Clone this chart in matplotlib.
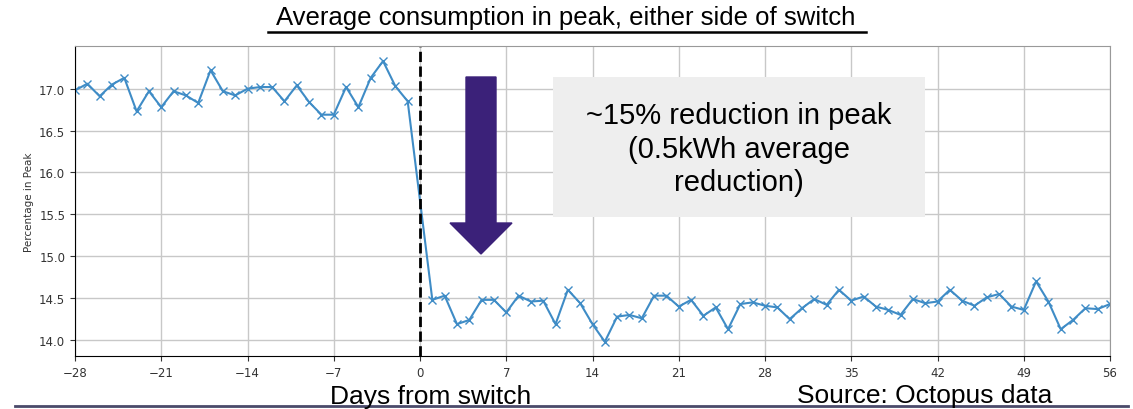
import matplotlib.pyplot as plt
from matplotlib.patches import Rectangle, FancyArrow
from matplotlib.lines import Line2D
import numpy as np

# ---
days_before = list(range(-28, 0))
peak_before = [16.98, 17.06, 16.91, 17.05, 17.13, 16.73, 16.97, 16.78, 16.97, 16.92,
               16.83, 17.22, 16.97, 16.92, 17.00, 17.02, 17.02, 16.85, 17.04, 16.84,
               16.69, 16.69, 17.02, 16.78, 17.13, 17.33, 17.03, 16.85]
days_after = list(range(1, 57))
peak_after = [14.48, 14.53, 14.19, 14.24, 14.48, 14.48, 14.33, 14.53, 14.46, 14.47,
              14.19, 14.60, 14.44, 14.19, 13.98, 14.28, 14.30, 14.26, 14.53, 14.53,
              14.40, 14.48, 14.29, 14.39, 14.13, 14.43, 14.45, 14.41, 14.39, 14.25,
              14.38, 14.49, 14.42, 14.60, 14.47, 14.52, 14.40, 14.36, 14.30, 14.49,
              14.44, 14.46, 14.60, 14.47, 14.41, 14.51, 14.55, 14.40, 14.36, 14.70,
              14.46, 14.13, 14.24, 14.38, 14.37, 14.43]
x_ticks = [-28, -21, -14, -7, 0, 7, 14, 21, 28, 35, 42, 49, 56]
y_ticks = [14.0, 14.5, 15.0, 15.5, 16.0, 16.5, 17.0]

days = days_before + days_after
peak = peak_before + peak_after

title = "Average consumption in peak, either side of switch"
note = "~15% reduction in peak\n(0.5kWh average\nreduction)"
#---

fig = plt.figure(figsize=(11.33, 4.10), dpi=100)
ax = fig.add_axes([0.0662, 0.1293, 0.9135, 0.7561])

ax.plot(days, peak, color="#3f8cc6", marker="x", markersize=6, linewidth=1.5)
ax.axvline(0, color="black", linestyle="--", linewidth=2)
ax.grid(True, color="#c8c8c8", linewidth=1)
ax.set_axisbelow(True)
ax.set_xlim(-28, 56)
ax.set_ylim(13.81, 17.51)
ax.set_xticks(x_ticks)
ax.set_yticks(y_ticks)
ax.tick_params(labelsize=8.5, colors="#333333")
ax.set_ylabel("Percentage in Peak", fontsize=7.5, color="#333333")
for s in ["top", "right"]:
    ax.spines[s].set_color("#999999")

sans = ["Liberation Sans", "DejaVu Sans"]

# title + underline
fig.text(0.4995, 0.955, title, ha="center", va="center", fontsize=18.5, family=sans)
fig.add_artist(Line2D([268 / 1133, 866 / 1133], [1 - 33 / 410] * 2,
                      transform=fig.transFigure, color="black", linewidth=1.8))

# grey note box and arrow, placed in figure inches
tr = fig.dpi_scale_trans
fig.add_artist(Rectangle((5.53, 1.92), 3.72, 1.40, transform=tr,
                         facecolor="#eeeeee", edgecolor="none", zorder=3))
fig.text(7.39, 2.60, note, transform=tr, ha="center", va="center",
         fontsize=21, family=sans, linespacing=1.25, zorder=4)
fig.add_artist(FancyArrow(4.81, 3.32, 0, -1.77, width=0.30, head_width=0.62,
                          head_length=0.31, length_includes_head=True,
                          transform=tr, color="#3b2179", zorder=3))

fig.text(431 / 1133, 1 - 397 / 410, "Days from switch", ha="center", va="center",
         fontsize=19, family=sans)
fig.text(925 / 1133, 1 - 396 / 410, "Source: Octopus data", ha="center", va="center",
         fontsize=19, family=sans)
fig.add_artist(Line2D([15 / 1133, 1128 / 1133], [1 - 407 / 410] * 2,
                      transform=fig.transFigure, color="#4a4a6a", linewidth=2))

fig.savefig("out.png", dpi=100)
